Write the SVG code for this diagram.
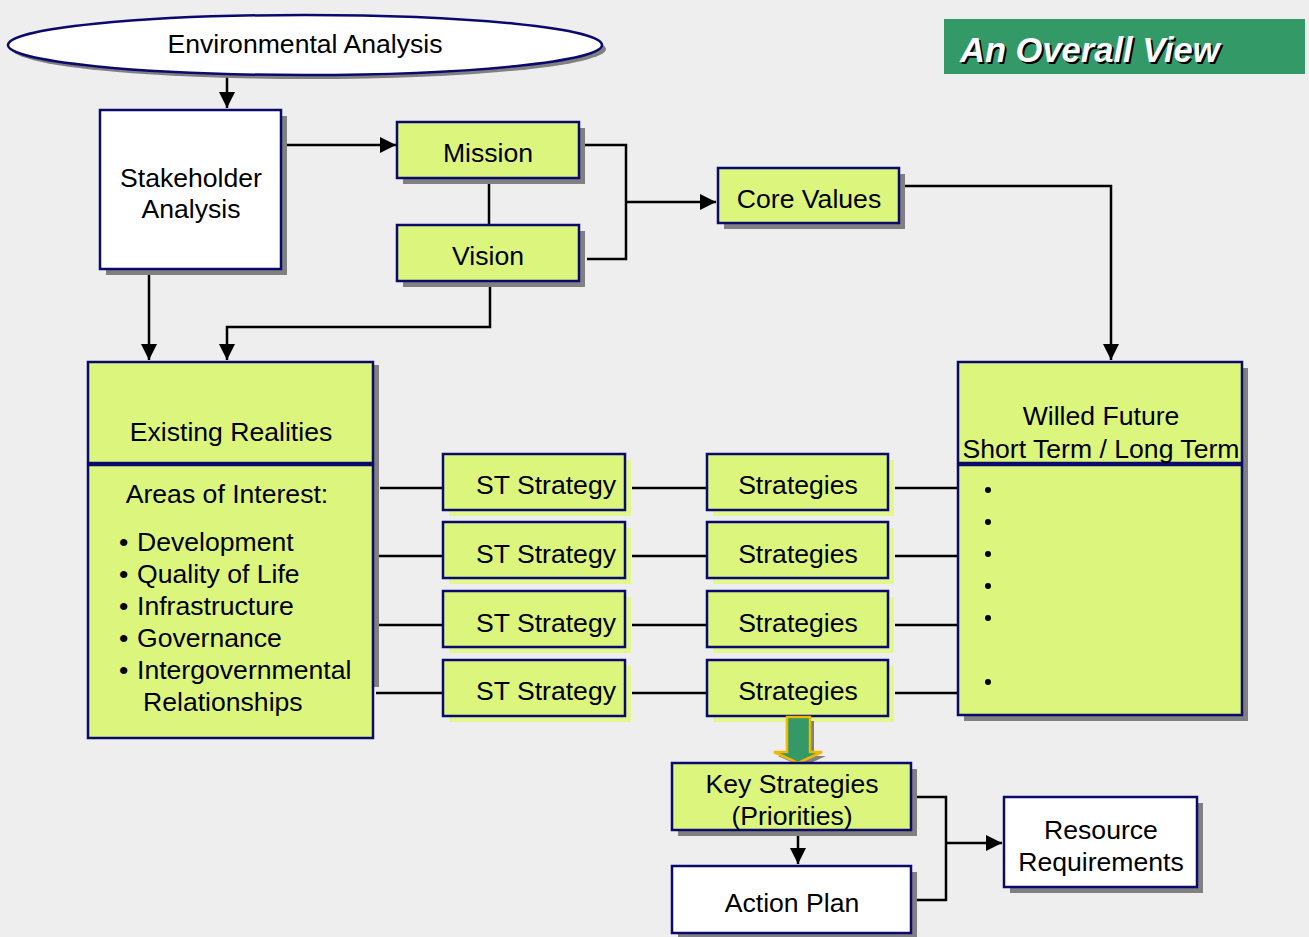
<svg xmlns="http://www.w3.org/2000/svg" width="1309" height="937" viewBox="0 0 1309 937">
<defs>
<style>
text{font-family:"Liberation Sans",Arial,sans-serif;font-size:26.6px;fill:#000}
.c{text-anchor:middle}
.g{fill:#dcf57c;stroke:#0a0a6e;stroke-width:2.5}
.w{fill:#ffffff;stroke:#0a0a6e;stroke-width:2.5}
.sh{fill:#808080}
.lsh{fill:#e2f78e}
.ln{fill:none;stroke:#000;stroke-width:2.5}
.ar{fill:none;stroke:#000;stroke-width:2.5;marker-end:url(#ah)}
</style>
<marker id="ah" viewBox="0 0 10 10" refX="10" refY="5" markerWidth="6.5" markerHeight="6.5" markerUnits="strokeWidth" orient="auto">
<path d="M0,0 L10,5 L0,10 Z" fill="#000"/>
</marker>
</defs>
<rect width="1309" height="937" fill="#eeeeee"/>

<g id="title">
<rect x="944" y="19" width="361" height="55" fill="#339966"/>
<text x="962" y="64" style="font-size:34.5px;font-weight:bold;font-style:italic;fill:#000">An Overall View</text>
<text x="960" y="62" style="font-size:34.5px;font-weight:bold;font-style:italic;fill:#fff">An Overall View</text>
</g>

<g id="connectors">
<path class="ar" d="M227,76 V108"/>
<path class="ar" d="M284,145 H396"/>
<path class="ln" d="M489,178 V225"/>
<path class="ln" d="M583,145 H626 V259 H587"/>
<path class="ar" d="M626,202 H716"/>
<path class="ar" d="M902,186 H1111 V360"/>
<path class="ar" d="M490,287 V327 H227 V360"/>
<path class="ar" d="M149,274 V360"/>
<path class="ln" d="M380,488 H443 M632,488 H707 M895,488 H958"/>
<path class="ln" d="M376,556 H443 M632,556 H707 M895,556 H958"/>
<path class="ln" d="M376,625 H443 M632,625 H707 M895,625 H958"/>
<path class="ln" d="M376,693 H443 M632,693 H707 M895,693 H958"/>
<path class="ar" d="M798,832 V864"/>
<path class="ln" d="M914,797 H946 V900 H914"/>
<path class="ar" d="M946,843 H1002"/>
</g>

<g id="environmental-analysis">
<ellipse cx="309" cy="49" rx="297" ry="30" class="sh"/>
<ellipse cx="305" cy="45" rx="297" ry="30" class="w"/>
<text x="305" y="53" class="c">Environmental Analysis</text>
</g>

<g id="stakeholder-analysis">
<rect x="106" y="116" width="181" height="159" class="sh"/>
<rect x="100" y="110" width="181" height="159" class="w"/>
<text x="191" y="187" class="c">Stakeholder</text>
<text x="191" y="218" class="c">Analysis</text>
</g>

<g id="mission">
<rect x="403" y="128" width="182" height="56" class="sh"/>
<rect x="397" y="122" width="182" height="56" class="g"/>
<text x="488" y="162" class="c">Mission</text>
</g>

<g id="vision">
<rect x="403" y="231" width="182" height="56" class="sh"/>
<rect x="397" y="225" width="182" height="56" class="g"/>
<text x="488" y="265" class="c">Vision</text>
</g>

<g id="core-values">
<rect x="724" y="174" width="181" height="55" class="sh"/>
<rect x="718" y="168" width="181" height="55" class="g"/>
<text x="809" y="208" class="c">Core Values</text>
</g>

<g id="existing-realities">
<rect x="373" y="365" width="6" height="322" class="sh"/>
<rect x="88" y="362" width="285" height="101" class="g"/>
<text x="231" y="441" class="c">Existing Realities</text>
<rect x="88" y="465" width="285" height="273" class="g"/>
<text x="227" y="503" class="c">Areas of Interest:</text>
<text x="119" y="551">• <tspan x="137">Development</tspan></text>
<text x="119" y="583">• <tspan x="137">Quality of Life</tspan></text>
<text x="119" y="615">• <tspan x="137">Infrastructure</tspan></text>
<text x="119" y="647">• <tspan x="137">Governance</tspan></text>
<text x="119" y="679">• <tspan x="137">Intergovernmental</tspan></text>
<text x="143" y="711">Relationships</text>
</g>

<g id="st-strategy-1">
<rect x="449" y="460" width="182" height="56" class="lsh"/>
<rect x="443" y="454" width="182" height="56" class="g"/>
<text x="616" y="494" text-anchor="end">ST Strategy</text>
</g>
<g id="st-strategy-2">
<rect x="449" y="528" width="182" height="56" class="lsh"/>
<rect x="443" y="522" width="182" height="56" class="g"/>
<text x="616" y="563" text-anchor="end">ST Strategy</text>
</g>
<g id="st-strategy-3">
<rect x="449" y="597" width="182" height="56" class="lsh"/>
<rect x="443" y="591" width="182" height="56" class="g"/>
<text x="616" y="632" text-anchor="end">ST Strategy</text>
</g>
<g id="st-strategy-4">
<rect x="449" y="666" width="182" height="56" class="lsh"/>
<rect x="443" y="660" width="182" height="56" class="g"/>
<text x="616" y="700" text-anchor="end">ST Strategy</text>
</g>

<g id="strategies-1">
<rect x="713" y="460" width="181" height="56" class="lsh"/>
<rect x="707" y="454" width="181" height="56" class="g"/>
<text x="798" y="494" class="c">Strategies</text>
</g>
<g id="strategies-2">
<rect x="713" y="528" width="181" height="56" class="lsh"/>
<rect x="707" y="522" width="181" height="56" class="g"/>
<text x="798" y="563" class="c">Strategies</text>
</g>
<g id="strategies-3">
<rect x="713" y="597" width="181" height="56" class="lsh"/>
<rect x="707" y="591" width="181" height="56" class="g"/>
<text x="798" y="632" class="c">Strategies</text>
</g>
<g id="strategies-4">
<rect x="713" y="666" width="181" height="56" class="lsh"/>
<rect x="707" y="660" width="181" height="56" class="g"/>
<text x="798" y="700" class="c">Strategies</text>
</g>

<g id="willed-future">
<rect x="964" y="368" width="284" height="353" class="sh"/>
<rect x="958" y="362" width="284" height="101" class="g"/>
<text x="1101" y="425" class="c">Willed Future</text>
<text x="1101" y="458" class="c">Short Term / Long Term</text>
<rect x="958" y="465" width="284" height="250" class="g"/>
<g fill="#000">
<circle cx="988" cy="490" r="3"/>
<circle cx="988" cy="522" r="3"/>
<circle cx="988" cy="554" r="3"/>
<circle cx="988" cy="586" r="3"/>
<circle cx="988" cy="618" r="3"/>
<circle cx="988" cy="682" r="3"/>
</g>
</g>

<g id="priority-arrow">
<path d="M791,721 H814 V756 H826 L802,767 L778,756 H791 Z" fill="#808080"/>
<path d="M787,717 H810 V752 H822 L798,763 L774,752 H787 Z" fill="#339966" stroke="#f0b800" stroke-width="2.5" stroke-linejoin="miter"/>
</g>

<g id="key-strategies">
<rect x="678" y="769" width="239" height="67" class="sh"/>
<rect x="672" y="763" width="239" height="67" class="g"/>
<text x="792" y="793" class="c">Key Strategies</text>
<text x="792" y="825" class="c">(Priorities)</text>
</g>

<g id="action-plan">
<rect x="678" y="872" width="239" height="67" class="sh"/>
<rect x="672" y="866" width="239" height="67" class="w"/>
<text x="792" y="912" class="c">Action Plan</text>
</g>

<g id="resource-requirements">
<rect x="1010" y="803" width="193" height="90" class="sh"/>
<rect x="1004" y="797" width="193" height="90" class="w"/>
<text x="1101" y="839" class="c">Resource</text>
<text x="1101" y="871" class="c">Requirements</text>
</g>
</svg>
